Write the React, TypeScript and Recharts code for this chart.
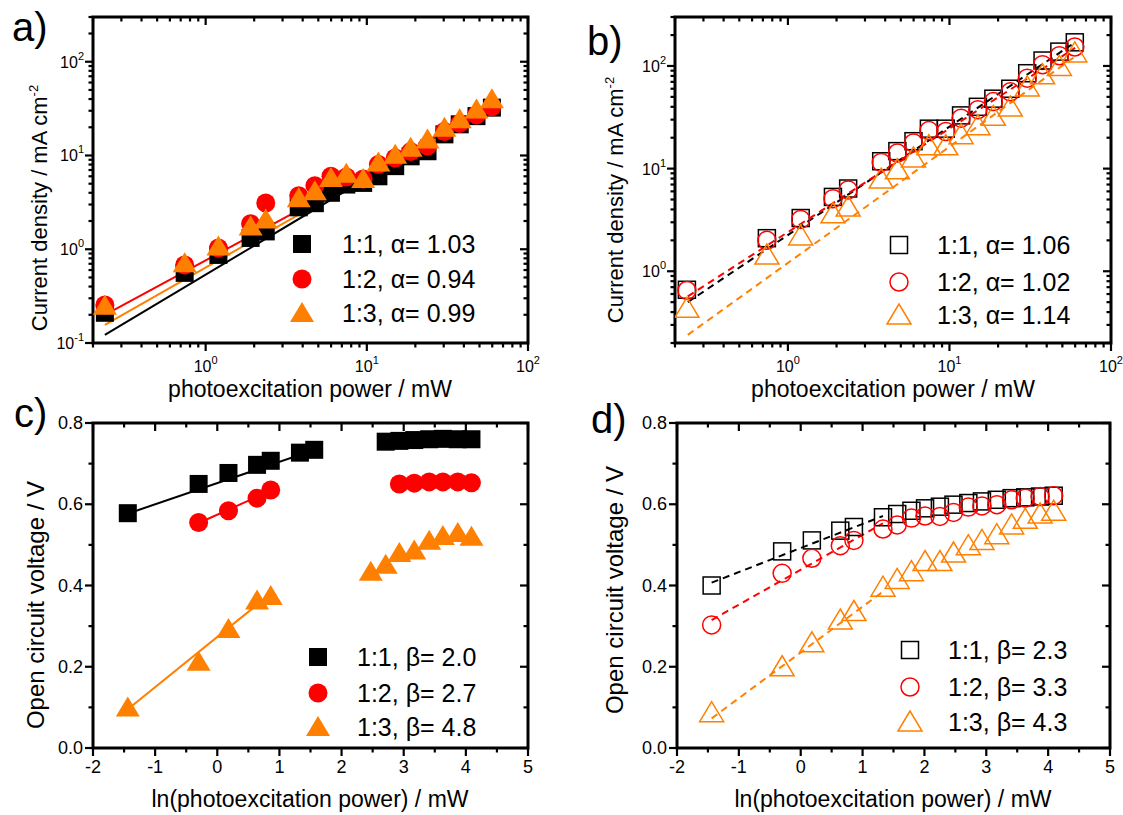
import React from "react";
import { ScatterChart, Scatter, XAxis, YAxis, ReferenceLine, ReferenceArea } from "recharts";

const FONT = '"Liberation Sans", Arial, sans-serif';
const BLACK = "#000000";
const RED = "#ff0000";
const ORANGE = "#ff8000";

// excitation power (mW) and ln of it, shared by all panels
const power = [0.237, 0.741, 1.2, 1.9, 2.36, 3.78, 4.76, 5.99, 7.46, 9.49, 11.8, 15.0, 18.7, 23.8, 30.3, 37.7, 47.9, 59.7];
const lnPower = [-1.44, -0.3, 0.18, 0.64, 0.86, 1.33, 1.56, 1.79, 2.01, 2.25, 2.47, 2.71, 2.93, 3.17, 3.41, 3.63, 3.87, 4.09];

// a) current density, filled symbols (mA cm^-2)
const jA11 = [0.21, 0.56, 0.87, 1.32, 1.55, 2.8, 3.1, 4.0, 4.9, 5.1, 6.0, 7.7, 9.8, 11.1, 16.8, 21.5, 26.3, 32.4];
const jA12 = [0.255, 0.68, 1.03, 1.87, 3.12, 3.73, 4.77, 6.0, 5.9, 5.63, 8.0, 9.4, 11.0, 12.6, 18.0, 22.0, 27.0, 33.0];
const jA13 = [0.25, 0.71, 1.07, 1.75, 2.07, 3.5, 4.15, 5.77, 6.4, 5.6, 8.4, 10.2, 12.1, 14.8, 19.8, 24.3, 31.0, 39.7];

// b) current density, open symbols
const jB11 = [0.66, 2.1, 3.3, 5.3, 6.4, 11.8, 14.8, 18.5, 24.5, 24.5, 33, 40, 48, 60, 85, 113, 138, 170];
const jB12 = [0.65, 2.0, 3.2, 5.1, 6.2, 11.5, 14.2, 17.8, 23.5, 23, 31, 37.5, 45, 56, 76, 103, 126, 153];
const jB13 = [0.435, 1.44, 2.21, 3.63, 4.22, 7.9, 9.75, 12.7, 16.7, 16.7, 21.4, 26.2, 32.3, 39.8, 62.5, 82, 99, 134];

// c) Voc, filled symbols (null = no point)
const vC11 = [0.578, 0.65, 0.677, 0.697, 0.707, 0.727, 0.734, null, null, null, null, 0.754, 0.756, 0.758, 0.76, 0.761, 0.76, 0.76];
const vC12 = [null, 0.555, 0.584, 0.615, 0.635, null, null, null, null, null, null, null, 0.65, 0.652, 0.655, 0.655, 0.655, 0.653];
const vC13 = [0.1, 0.2125, 0.293, 0.363, 0.374, null, null, null, null, null, 0.434, 0.451, 0.48, 0.486, 0.51, 0.522, 0.529, 0.52];

// d) Voc, open symbols
const vD11 = [0.4, 0.484, 0.511, 0.535, 0.544, 0.568, 0.576, 0.584, 0.59, 0.594, 0.599, 0.603, 0.607, 0.611, 0.615, 0.617, 0.619, 0.621];
const vD12 = [0.303, 0.43, 0.467, 0.498, 0.511, 0.539, 0.549, 0.566, 0.571, 0.57, 0.58, 0.593, 0.596, 0.599, 0.611, 0.615, 0.619, 0.621];
const vD13 = [0.087, 0.2, 0.259, 0.315, 0.336, 0.396, 0.415, 0.434, 0.459, 0.459, 0.48, 0.498, 0.511, 0.525, 0.549, 0.563, 0.576, 0.583];

// fit lines (end points)
const fitA11 = [{ x: 0.237, y: 0.122 }, { x: 60, y: 36 }];
const fitA12 = [{ x: 0.237, y: 0.2 }, { x: 60, y: 34 }];
const fitA13 = [{ x: 0.237, y: 0.156 }, { x: 60, y: 35 }];
const fitB11 = [{ x: 0.24, y: 0.5 }, { x: 57, y: 161 }];
const fitB12 = [{ x: 0.24, y: 0.57 }, { x: 60, y: 150 }];
const fitB13 = [{ x: 0.24, y: 0.24 }, { x: 60, y: 124 }];
const fitC11 = [{ x: -1.42, y: 0.578 }, { x: 1.57, y: 0.734 }];
const fitC12 = [{ x: -0.28, y: 0.555 }, { x: 0.88, y: 0.635 }];
const fitC13 = [{ x: -1.42, y: 0.098 }, { x: 0.7, y: 0.36 }];
const fitD11 = [{ x: -1.44, y: 0.407 }, { x: 1.33, y: 0.571 }];
const fitD12 = [{ x: -1.44, y: 0.315 }, { x: 1.33, y: 0.553 }];
const fitD13 = [{ x: -1.44, y: 0.073 }, { x: 1.33, y: 0.385 }];

const legendA = ["1:1, \u03b1= 1.03", "1:2, \u03b1= 0.94", "1:3, \u03b1= 0.99"];
const legendB = ["1:1, \u03b1= 1.06", "1:2, \u03b1= 1.02", "1:3, \u03b1= 1.14"];
const legendC = ["1:1, \u03b2= 2.0", "1:2, \u03b2= 2.7", "1:3, \u03b2= 4.8"];
const legendD = ["1:1, \u03b2= 2.3", "1:2, \u03b2= 3.3", "1:3, \u03b2= 4.3"];

const logTicksX = [0.2, 0.3, 0.4, 0.5, 0.6, 0.7, 0.8, 0.9, 1, 2, 3, 4, 5, 6, 7, 8, 9, 10, 20, 30, 40, 50, 60, 70, 80, 90, 100];
const logTicksYA = [0.1, 0.2, 0.3, 0.4, 0.5, 0.6, 0.7, 0.8, 0.9, 1, 2, 3, 4, 5, 6, 7, 8, 9, 10, 20, 30, 40, 50, 60, 70, 80, 90, 100, 200, 300];
const logTicksYB = [0.2, 0.3, 0.4, 0.5, 0.6, 0.7, 0.8, 0.9, 1, 2, 3, 4, 5, 6, 7, 8, 9, 10, 20, 30, 40, 50, 60, 70, 80, 90, 100, 200, 300];
const linTicksX = [-2, -1.5, -1, -0.5, 0, 0.5, 1, 1.5, 2, 2.5, 3, 3.5, 4, 4.5, 5];
const linTicksY = [0, 0.1, 0.2, 0.3, 0.4, 0.5, 0.6, 0.7, 0.8];

type Box = { left: number; right: number; top: number; bottom: number };
type Kind = "square" | "circle" | "triangle";

const isDecade = (v: number) => Math.abs(Math.log10(v) - Math.round(Math.log10(v))) < 1e-6;
const near = (a: number, b: number) => Math.abs(a - b) < 1e-6;

const rows = (xs: number[], ys: (number | null)[]) =>
  xs.map((x, i) => ({ x, y: ys[i] })).filter((r) => r.y != null);

function Marker({ kind, cx, cy, color, filled }: { kind: Kind; cx: number; cy: number; color: string; filled: boolean }) {
  const fill = filled ? color : "none";
  const sw = filled ? 0 : 1.5;
  if (kind === "square") {
    const s = filled ? 18 : 17;
    return <rect x={cx - s / 2} y={cy - s / 2} width={s} height={s} fill={fill} stroke={color} strokeWidth={sw} />;
  }
  if (kind === "circle") {
    return <circle cx={cx} cy={cy} r={filled ? 9.5 : 9} fill={fill} stroke={color} strokeWidth={sw} />;
  }
  return (
    <polygon
      points={`${cx},${cy - 11} ${cx - 12},${cy + 9} ${cx + 12},${cy + 9}`}
      fill={fill}
      stroke={color}
      strokeWidth={sw}
      strokeLinejoin="miter"
    />
  );
}

function PowText({ x, y, v, anchor }: { x: number; y: number; v: number; anchor: "middle" | "end" }) {
  const e = Math.round(Math.log10(v));
  return (
    <text x={x} y={y} textAnchor={anchor} fontFamily={FONT} fontSize={16} fill={BLACK}>
      10
      <tspan dy={-8} fontSize={11}>
        {e}
      </tspan>
    </text>
  );
}

const TICK = { stroke: BLACK, strokeWidth: 2.2 };

function makeXTick(box: Box, log: boolean) {
  return (props: any) => {
    const v = props.payload.value;
    const x = props.x;
    const major = log ? isDecade(v) : near(v, Math.round(v));
    const len = major ? 8 : 4.5;
    return (
      <g>
        <line x1={x} x2={x} y1={box.bottom} y2={box.bottom + len} {...TICK} />
        <line x1={x} x2={x} y1={box.top} y2={box.top + len} {...TICK} />
        {major &&
          (log ? (
            <PowText x={x} y={box.bottom + 29} v={v} anchor="middle" />
          ) : (
            <text x={x} y={box.bottom + 25} textAnchor="middle" fontFamily={FONT} fontSize={18} fill={BLACK}>
              {String(v)}
            </text>
          ))}
      </g>
    );
  };
}

function makeYTick(box: Box, log: boolean) {
  return (props: any) => {
    const v = props.payload.value;
    const y = props.y;
    const major = log ? isDecade(v) : near(v * 5, Math.round(v * 5));
    const len = major ? 8 : 4.5;
    return (
      <g>
        <line x1={box.left - len} x2={box.left} y1={y} y2={y} {...TICK} />
        <line x1={box.right - len} x2={box.right} y1={y} y2={y} {...TICK} />
        {major &&
          (log ? (
            <PowText x={box.left - 9} y={y + 6} v={v} anchor="end" />
          ) : (
            <text x={box.left - 10} y={y + 6} textAnchor="end" fontFamily={FONT} fontSize={18} fill={BLACK}>
              {v.toFixed(1)}
            </text>
          ))}
      </g>
    );
  };
}

type Series = { rows: { x: number; y: number | null }[]; kind: Kind; color: string; filled: boolean };
type Fit = { points: { x: number; y: number }[]; color: string; dashed: boolean };

function Panel(p: {
  left: number;
  top: number;
  width: number;
  height: number;
  box: Box;
  log: boolean;
  xDomain: [number, number];
  yDomain: [number, number];
  xTicks: number[];
  yTicks: number[];
  series: Series[];
  fits: Fit[];
}) {
  const { box } = p;
  const scale = p.log ? "log" : "linear";
  return (
    <div style={{ position: "absolute", left: p.left, top: p.top, width: p.width, height: p.height }}>
      <ScatterChart
        width={p.width}
        height={p.height}
        margin={{ top: box.top, right: p.width - box.right, bottom: 0, left: 0 }}
      >
        <XAxis
          dataKey="x"
          type="number"
          scale={scale}
          domain={p.xDomain}
          ticks={p.xTicks}
          interval={0}
          allowDataOverflow
          height={p.height - box.bottom}
          axisLine={false}
          tickLine={false}
          tick={makeXTick(box, p.log)}
        />
        <YAxis
          dataKey="y"
          type="number"
          scale={scale}
          domain={p.yDomain}
          ticks={p.yTicks}
          interval={0}
          allowDataOverflow
          width={box.left}
          axisLine={false}
          tickLine={false}
          tick={makeYTick(box, p.log)}
        />
        <ReferenceArea
          x1={p.xDomain[0]}
          x2={p.xDomain[1]}
          y1={p.yDomain[0]}
          y2={p.yDomain[1]}
          fill="none"
          fillOpacity={0}
          stroke={BLACK}
          strokeWidth={3}
          ifOverflow="visible"
        />
        {p.series.map((s, i) => (
          <Scatter
            key={i}
            data={s.rows}
            isAnimationActive={false}
            shape={(sp: any) => <Marker kind={s.kind} cx={sp.cx} cy={sp.cy} color={s.color} filled={s.filled} />}
          />
        ))}
        {p.fits.map((f, i) => (
          <ReferenceLine
            key={`f${i}`}
            segment={f.points}
            stroke={f.color}
            strokeWidth={2}
            strokeDasharray={f.dashed ? "7 5" : undefined}
            ifOverflow="visible"
          />
        ))}
      </ScatterChart>
    </div>
  );
}

function Legend({ x, tx, ys, labels, filled }: { x: number; tx: number; ys: number[]; labels: string[]; filled: boolean }) {
  const kinds: Kind[] = ["square", "circle", "triangle"];
  const colors = [BLACK, RED, ORANGE];
  return (
    <g>
      {labels.map((l, i) => (
        <g key={i}>
          <Marker kind={kinds[i]} cx={x} cy={ys[i]} color={colors[i]} filled={filled} />
          <text x={tx} y={ys[i] + 9} fontFamily={FONT} fontSize={25} fill={BLACK}>
            {l}
          </text>
        </g>
      ))}
    </g>
  );
}

export default function App() {
  const boxA = { left: 93, right: 528, top: 17, bottom: 343 };
  const boxB = { left: 115, right: 551, top: 17, bottom: 343 };
  const boxC = { left: 93, right: 528, top: 13, bottom: 338 };
  const boxD = { left: 117, right: 550, top: 13, bottom: 338 };
  return (
    <div style={{ position: "absolute", left: 0, top: 0, width: 1123, height: 815, background: "#fff" }}>
      <Panel
        left={0}
        top={0}
        width={560}
        height={410}
        box={boxA}
        log
        xDomain={[0.2, 100]}
        yDomain={[0.1, 300]}
        xTicks={logTicksX}
        yTicks={logTicksYA}
        series={[
          { rows: rows(power, jA11), kind: "square", color: BLACK, filled: true },
          { rows: rows(power, jA12), kind: "circle", color: RED, filled: true },
          { rows: rows(power, jA13), kind: "triangle", color: ORANGE, filled: true },
        ]}
        fits={[
          { points: fitA11, color: BLACK, dashed: false },
          { points: fitA13, color: ORANGE, dashed: false },
          { points: fitA12, color: RED, dashed: false },
        ]}
      />
      <Panel
        left={560}
        top={0}
        width={563}
        height={410}
        box={boxB}
        log
        xDomain={[0.2, 100]}
        yDomain={[0.2, 300]}
        xTicks={logTicksX}
        yTicks={logTicksYB}
        series={[
          { rows: rows(power, jB11), kind: "square", color: BLACK, filled: false },
          { rows: rows(power, jB12), kind: "circle", color: RED, filled: false },
          { rows: rows(power, jB13), kind: "triangle", color: ORANGE, filled: false },
        ]}
        fits={[
          { points: fitB11, color: BLACK, dashed: true },
          { points: fitB12, color: RED, dashed: true },
          { points: fitB13, color: ORANGE, dashed: true },
        ]}
      />
      <Panel
        left={0}
        top={410}
        width={560}
        height={405}
        box={boxC}
        log={false}
        xDomain={[-2, 5]}
        yDomain={[0, 0.8]}
        xTicks={linTicksX}
        yTicks={linTicksY}
        series={[
          { rows: rows(lnPower, vC11), kind: "square", color: BLACK, filled: true },
          { rows: rows(lnPower, vC12), kind: "circle", color: RED, filled: true },
          { rows: rows(lnPower, vC13), kind: "triangle", color: ORANGE, filled: true },
        ]}
        fits={[
          { points: fitC11, color: BLACK, dashed: false },
          { points: fitC12, color: RED, dashed: false },
          { points: fitC13, color: ORANGE, dashed: false },
        ]}
      />
      <Panel
        left={560}
        top={410}
        width={563}
        height={405}
        box={boxD}
        log={false}
        xDomain={[-2, 5]}
        yDomain={[0, 0.8]}
        xTicks={linTicksX}
        yTicks={linTicksY}
        series={[
          { rows: rows(lnPower, vD11), kind: "square", color: BLACK, filled: false },
          { rows: rows(lnPower, vD12), kind: "circle", color: RED, filled: false },
          { rows: rows(lnPower, vD13), kind: "triangle", color: ORANGE, filled: false },
        ]}
        fits={[
          { points: fitD11, color: BLACK, dashed: true },
          { points: fitD12, color: RED, dashed: true },
          { points: fitD13, color: ORANGE, dashed: true },
        ]}
      />
      <svg
        width={1123}
        height={815}
        style={{ position: "absolute", left: 0, top: 0, pointerEvents: "none" }}
        fontFamily={FONT}
      >
        <text x={12} y={41} fontSize={40} fill={BLACK}>a)</text>
        <text x={587} y={55} fontSize={40} fill={BLACK}>b)</text>
        <text x={14} y={427} fontSize={40} fill={BLACK}>c)</text>
        <text x={591} y={433} fontSize={40} fill={BLACK}>d)</text>

        <text x={310} y={397} fontSize={23} textAnchor="middle" fill={BLACK}>photoexcitation power / mW</text>
        <text x={893} y={397} fontSize={23} textAnchor="middle" fill={BLACK}>photoexcitation power / mW</text>
        <text x={310} y={807} fontSize={23} textAnchor="middle" fill={BLACK}>ln(photoexcitation power) / mW</text>
        <text x={893} y={807} fontSize={23} textAnchor="middle" fill={BLACK}>ln(photoexcitation power) / mW</text>

        <text transform="translate(47,208) rotate(-90)" fontSize={22} textAnchor="middle" fill={BLACK}>
          Current density / mA cm<tspan dy={-9} fontSize={13}>-2</tspan>
        </text>
        <text transform="translate(623,200) rotate(-90)" fontSize={22} textAnchor="middle" fill={BLACK}>
          Current density / mA cm<tspan dy={-9} fontSize={13}>-2</tspan>
        </text>
        <text transform="translate(44,605) rotate(-90)" fontSize={24} textAnchor="middle" fill={BLACK}>
          Open circuit voltage / V
        </text>
        <text transform="translate(623,590) rotate(-90)" fontSize={24} textAnchor="middle" fill={BLACK}>
          Open circuit voltage / V
        </text>

        <Legend x={302} tx={342} ys={[244, 279, 313]} labels={legendA} filled />
        <Legend x={899} tx={937} ys={[245, 282, 315]} labels={legendB} filled={false} />
        <Legend x={318} tx={357} ys={[657, 693, 727]} labels={legendC} filled />
        <Legend x={910} tx={948} ys={[650, 687, 722]} labels={legendD} filled={false} />
      </svg>
    </div>
  );
}
